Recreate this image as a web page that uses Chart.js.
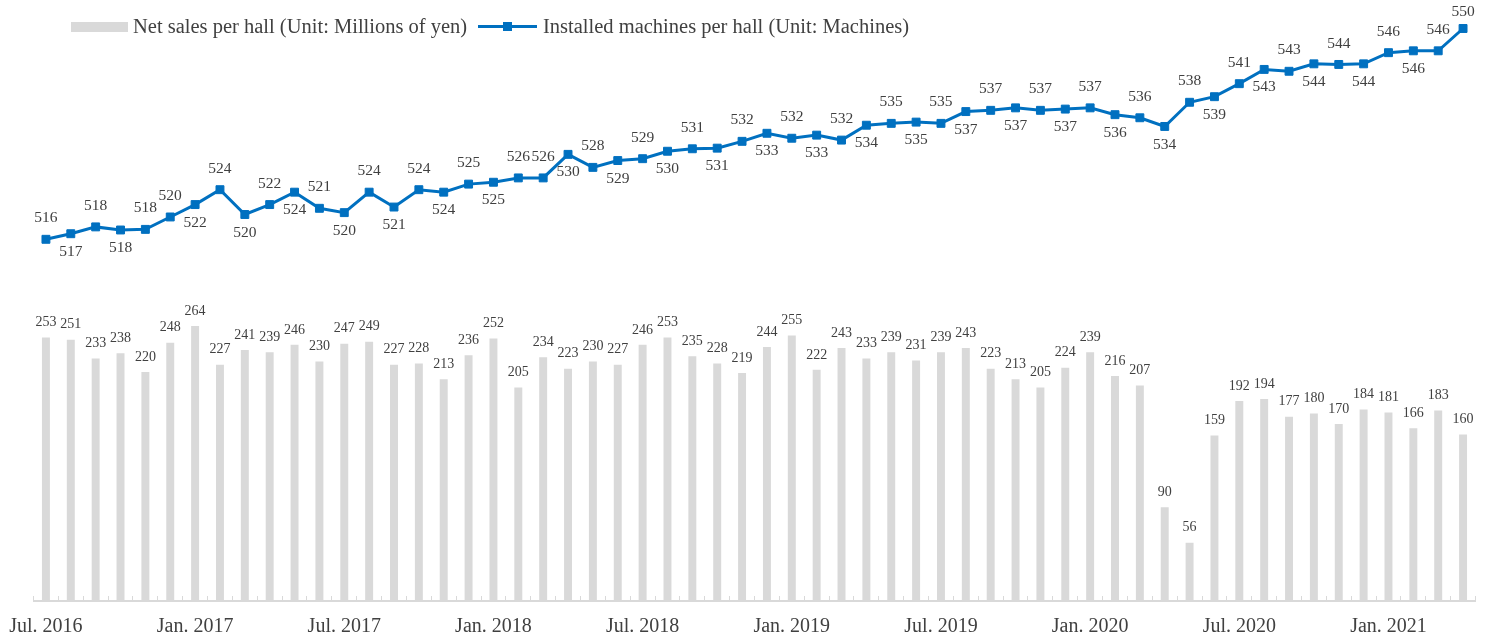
<!DOCTYPE html>
<html>
<head>
<meta charset="utf-8">
<script src="https://cdn.jsdelivr.net/npm/chart.js@4/dist/chart.umd.min.js"></script>
<style>
  html, body { margin: 0; padding: 0; background: #ffffff; }
  #wrap { position: relative; width: 1487px; height: 639px; overflow: hidden; }
  #c { position: absolute; left: 0; top: 0; }
  .lg { position: absolute; font-family: "Liberation Serif", "Times New Roman", serif; font-size: 20.5px; line-height: 24px; color: #404040; white-space: nowrap; }
  .sw-bar { position: absolute; left: 71px; top: 22px; width: 57px; height: 10px; background: #d9d9d9; }
  .sw-line { position: absolute; left: 478px; top: 25px; width: 59px; height: 3px; background: #0070c0; }
  .sw-mark { position: absolute; left: 503px; top: 22px; width: 9px; height: 9px; background: #0070c0; }
</style>
</head>
<body>
<div id="wrap">
  <canvas id="c" width="1487" height="639"></canvas>
  <div class="sw-bar"></div>
  <div class="lg" style="left:133px; top:13.5px;">Net sales per hall (Unit: Millions of yen)</div>
  <div class="sw-line"></div>
  <div class="sw-mark"></div>
  <div class="lg" style="left:543px; top:13.5px;">Installed machines per hall (Unit: Machines)</div>
</div>
<script>
const months = [
  "Jul. 2016","Aug. 2016","Sep. 2016","Oct. 2016","Nov. 2016","Dec. 2016",
  "Jan. 2017","Feb. 2017","Mar. 2017","Apr. 2017","May 2017","Jun. 2017",
  "Jul. 2017","Aug. 2017","Sep. 2017","Oct. 2017","Nov. 2017","Dec. 2017",
  "Jan. 2018","Feb. 2018","Mar. 2018","Apr. 2018","May 2018","Jun. 2018",
  "Jul. 2018","Aug. 2018","Sep. 2018","Oct. 2018","Nov. 2018","Dec. 2018",
  "Jan. 2019","Feb. 2019","Mar. 2019","Apr. 2019","May 2019","Jun. 2019",
  "Jul. 2019","Aug. 2019","Sep. 2019","Oct. 2019","Nov. 2019","Dec. 2019",
  "Jan. 2020","Feb. 2020","Mar. 2020","Apr. 2020","May 2020","Jun. 2020",
  "Jul. 2020","Aug. 2020","Sep. 2020","Oct. 2020","Nov. 2020","Dec. 2020",
  "Jan. 2021","Feb. 2021","Mar. 2021","Apr. 2021"
];

const shownTicks = ["Jul. 2016","Jan. 2017","Jul. 2017","Jan. 2018","Jul. 2018","Jan. 2019","Jul. 2019","Jan. 2020","Jul. 2020","Jan. 2021"];

// Net sales per hall (Millions of yen)
const netSales = [
  253,251,233,238,220,248,264,227,241,239,246,230,
  247,249,227,228,213,236,252,205,234,223,230,227,
  246,253,235,228,219,244,255,222,243,233,239,231,
  239,243,223,213,205,224,239,216,207,90,56,159,
  192,194,177,180,170,184,181,166,183,160
];

// Installed machines per hall (Machines) - estimated from plotted positions
const machines = [
  516.0,516.9,518.0,517.5,517.6,519.6,521.6,524.0,520.0,521.6,523.6,521.0,
  520.3,523.6,521.2,524.0,523.6,524.9,525.2,525.9,525.9,529.7,527.6,528.7,
  529.0,530.2,530.6,530.7,531.8,533.1,532.3,532.8,532.0,534.4,534.7,534.9,
  534.7,536.6,536.8,537.2,536.8,537.0,537.2,536.1,535.6,534.2,538.1,539.0,
  541.1,543.4,543.1,544.3,544.2,544.3,546.1,546.4,546.4,550.0
];

// label placement for the line values: a = above, b = below
const lineLabelSide = [
  "a","b","a","b","a","a","b","a","b","a","b","a",
  "b","a","b","a","b","a","b","a","a","b","a","b",
  "a","b","a","b","a","b","a","b","a","b","a","b",
  "a","b","a","b","a","b","a","b","a","b","a","b",
  "a","b","a","b","a","b","a","b","a","a"
];

const TEXT = "#404040";
const SERIF = '"Liberation Serif", "Times New Roman", serif';

const valueLabels = {
  id: "valueLabels",
  afterDatasetsDraw(chart) {
    const ctx = chart.ctx;
    const topLimit = chart.chartArea.top - 8;
    ctx.save();
    ctx.fillStyle = TEXT;
    ctx.textAlign = "center";
    ctx.textBaseline = "middle";
    const barMeta = chart.getDatasetMeta(0);
    ctx.font = "14px " + SERIF;
    barMeta.data.forEach((el, i) => {
      ctx.fillText(String(netSales[i]), el.x, el.y - 15);
    });
    const lineMeta = chart.getDatasetMeta(1);
    ctx.font = "15.5px " + SERIF;
    lineMeta.data.forEach((el, i) => {
      const up = lineLabelSide[i] === "a";
      const y = up ? Math.max(el.y - 21, topLimit) : el.y + 18;
      ctx.fillText(String(Math.round(machines[i])), el.x, y);
    });
    ctx.restore();
  }
};

new Chart(document.getElementById("c"), {
  data: {
    labels: months,
    datasets: [
      {
        type: "bar",
        label: "Net sales per hall (Unit: Millions of yen)",
        data: netSales,
        backgroundColor: "#d9d9d9",
        borderWidth: 0,
        barPercentage: 0.32,
        categoryPercentage: 1.0,
        yAxisID: "y",
        order: 2
      },
      {
        type: "line",
        label: "Installed machines per hall (Unit: Machines)",
        data: machines,
        borderColor: "#0070c0",
        backgroundColor: "#0070c0",
        borderWidth: 3,
        pointStyle: "rect",
        pointRadius: 5.6,
        pointBorderWidth: 1,
        pointBackgroundColor: "#0070c0",
        pointBorderColor: "#0070c0",
        tension: 0,
        yAxisID: "y1",
        order: 1
      }
    ]
  },
  options: {
    responsive: false,
    devicePixelRatio: 1,
    animation: false,
    layout: { padding: { left: 33.5, right: 11.5, top: 20, bottom: 0 } },
    plugins: {
      legend: { display: false },
      tooltip: { enabled: false }
    },
    scales: {
      x: {
        offset: true,
        grid: {
          display: true,
          drawOnChartArea: false,
          drawTicks: true,
          tickLength: -5,
          color: "#d9d9d9",
          offset: true
        },
        border: { display: true, color: "#d9d9d9", width: 2 },
        ticks: {
          autoSkip: false,
          maxRotation: 0,
          minRotation: 0,
          padding: 19,
          color: TEXT,
          font: { family: SERIF, size: 20 },
          callback: function (value) {
            const lab = this.getLabelForValue(value);
            return shownTicks.includes(lab) ? lab : "";
          }
        },
        afterFit: (s) => {
          s.height = 38;
          s.paddingLeft = 0;
          s.paddingRight = 0;
        }
      },
      y: {
        display: false,
        min: 0,
        max: 558
      },
      y1: {
        display: false,
        position: "right",
        min: 457.66,
        max: 551.37
      }
    }
  },
  plugins: [valueLabels]
});
</script>
</body>
</html>
